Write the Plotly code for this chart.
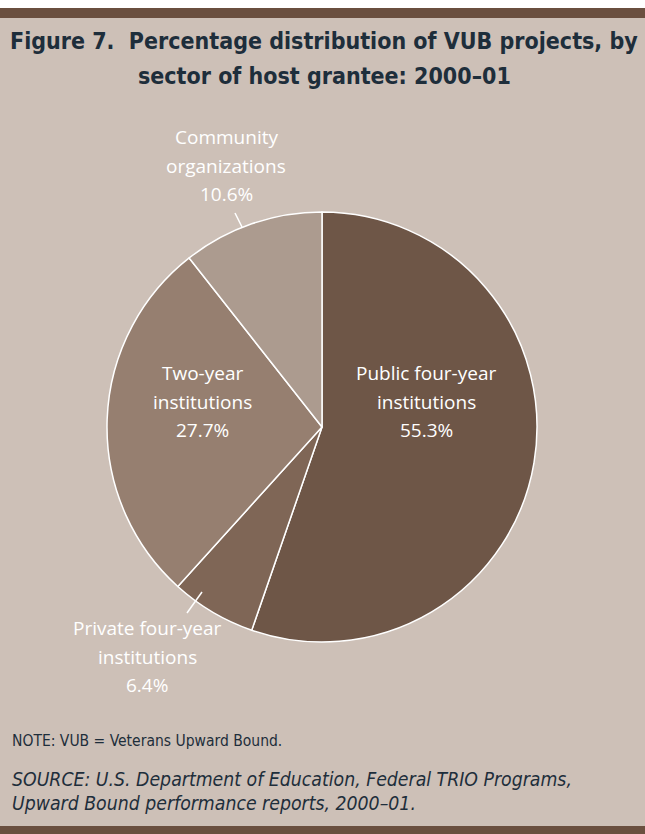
import plotly.graph_objects as go

# Share of VUB projects by sector of host grantee, 2000-01 (percent)
sectors = ["Public four-year institutions", "Private four-year institutions",
           "Two-year institutions", "Community organizations"]
shares = [55.3, 6.4, 27.7, 10.6]
label_lines = [["Public four-year", "institutions"],
               ["Private four-year", "institutions"],
               ["Two-year", "institutions"],
               ["Community", "organizations"]]
slice_colors = ["#6E5647", "#7F6656", "#967F70", "#AC9B8F"]

W, H = 645, 834
BG = "#CDC0B7"
BAR = "#6A4F3F"
INK = "#1E2E3B"
COND = "DejaVu Sans Condensed, Liberation Sans Narrow, Roboto"

cx, cy, r = 322, 427, 215  # pie centre and radius in pixels

fig = go.Figure(go.Pie(
    labels=sectors,
    values=shares,
    sort=False,
    direction="clockwise",
    rotation=0,
    textinfo="none",
    hoverinfo="label+percent",
    marker=dict(colors=slice_colors, line=dict(color="white", width=1.5)),
    domain=dict(x=[(cx - r) / W, (cx + r) / W], y=[1 - (cy + r) / H, 1 - (cy - r) / H]),
    showlegend=False,
))


def px(x):
    return x / W


def py(y):
    return 1 - y / H


# first-line centre (pixels) of each slice label; lines are 28.5 px apart
label_pos = [(426, 373), (147, 628), (202, 373), (226, 137)]
LINE_GAP = 28.5
annotations = []
for lines, val, (lx, ly) in zip(label_lines, shares, label_pos):
    for i, line in enumerate(lines + [f"{val:.1f}%"]):
        annotations.append(dict(
            x=px(lx), y=py(ly + i * LINE_GAP), xref="paper", yref="paper",
            xanchor="center", yanchor="middle",
            text=line, showarrow=False,
            font=dict(family="Open Sans", size=19, color="white"),
        ))

title_lines = ["Figure 7.  Percentage distribution of VUB projects, by",
               "sector of host grantee: 2000–01"]
for i, line in enumerate(title_lines):
    annotations.append(dict(
        x=px(324), y=py(41 + i * 35), xref="paper", yref="paper",
        xanchor="center", yanchor="middle",
        text=f"<b>{line}</b>", showarrow=False,
        font=dict(family=COND, size=23, color=INK),
    ))

annotations.append(dict(
    x=px(10), y=py(741), xref="paper", yref="paper", xanchor="left", yanchor="middle",
    text="NOTE: VUB = Veterans Upward Bound.",
    showarrow=False, align="left",
    font=dict(family=COND, size=15.5, color=INK),
))
source_lines = ["SOURCE: U.S. Department of Education, Federal TRIO Programs,",
                "Upward Bound performance reports, 2000–01."]
for i, line in enumerate(source_lines):
    annotations.append(dict(
        x=px(10), y=py(779 + i * 24.5), xref="paper", yref="paper",
        xanchor="left", yanchor="middle",
        text=f"<i>{line}</i>", showarrow=False,
        font=dict(family=COND, size=19.3, color=INK),
    ))

shapes = [
    dict(type="rect", xref="paper", yref="paper", x0=0, x1=1, y0=py(8), y1=1,
         fillcolor="white", line=dict(width=0), layer="below"),
    dict(type="rect", xref="paper", yref="paper", x0=0, x1=1, y0=py(18), y1=py(8),
         fillcolor=BAR, line=dict(width=0), layer="below"),
    dict(type="rect", xref="paper", yref="paper", x0=0, x1=1, y0=0, y1=py(826),
         fillcolor=BAR, line=dict(width=0), layer="below"),
    # leader ticks for the labels placed outside the pie
    dict(type="line", xref="paper", yref="paper", x0=px(235), y0=py(213), x1=px(242), y1=py(227),
         line=dict(color="white", width=1.5)),
    dict(type="line", xref="paper", yref="paper", x0=px(202), y0=py(592), x1=px(187), y1=py(613),
         line=dict(color="white", width=1.5)),
]

fig.update_layout(
    width=W, height=H,
    margin=dict(l=0, r=0, t=0, b=0),
    paper_bgcolor=BG, plot_bgcolor=BG,
    annotations=annotations, shapes=shapes,
)

fig.write_html("out.html")
